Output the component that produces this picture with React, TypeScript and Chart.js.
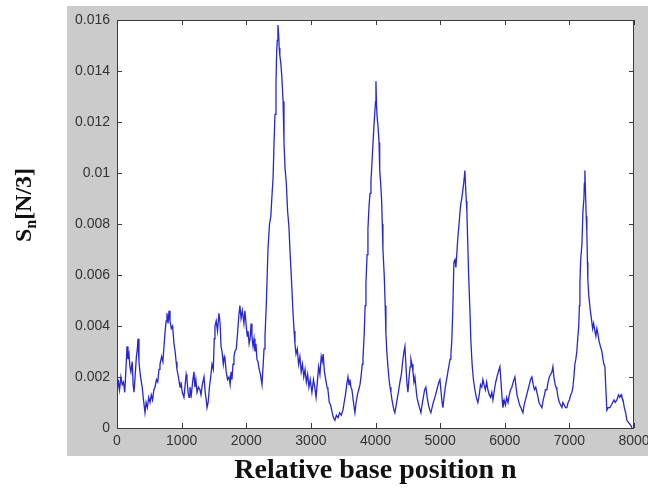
import React, { useEffect, useRef } from "react";
import { Chart, registerables } from "chart.js";
Chart.register(...registerables);

// Relative base position n
const positions: number[] = [
  0, 20, 40, 60, 80, 100, 120, 140, 155, 170, 185, 200, 215, 235, 250, 263, 280, 300, 315, 325, 340, 355, 371, 390, 410, 433, 450, 470, 490, 511, 530, 550, 570, 588, 610, 630, 650, 665, 690, 710, 727, 745, 760, 773, 790, 805, 820, 840, 860, 882, 900, 915, 928, 950, 975, 990,
  1010, 1036, 1055, 1070, 1083, 1100, 1115, 1129, 1150, 1170, 1191, 1205, 1220, 1238, 1260, 1284, 1300, 1320, 1346, 1365, 1380, 1393, 1410, 1430, 1450, 1470, 1490, 1505, 1516, 1535, 1555, 1578, 1595, 1610, 1625, 1645, 1660, 1671, 1690, 1710, 1733, 1750, 1765, 1779, 1795, 1810, 1825, 1845, 1865, 1885, 1902, 1920, 1940, 1964, 1980,
  2000, 2015, 2027, 2045, 2060, 2075, 2088, 2105, 2120, 2135, 2150, 2165, 2181, 2200, 2220, 2243, 2260, 2275, 2290, 2310, 2336, 2360, 2380, 2400, 2415, 2430, 2445, 2460, 2470, 2480, 2490, 2500, 2510, 2520, 2535, 2550, 2570, 2584, 2600, 2620, 2640, 2660, 2676, 2700, 2722, 2740, 2754, 2770, 2790, 2810, 2830, 2850, 2870, 2890, 2910, 2930, 2950, 2970, 2990,
  3016, 3040, 3060, 3080, 3100, 3120, 3140, 3160, 3175, 3190, 3210, 3230, 3250, 3264, 3285, 3305, 3330, 3350, 3372, 3395, 3420, 3445, 3470, 3496, 3515, 3535, 3555, 3574, 3590, 3605, 3620, 3635, 3650, 3665, 3682, 3700, 3720, 3740, 3760, 3780, 3795, 3806, 3825, 3840, 3852, 3870, 3883, 3900, 3915, 3930, 3945, 3960, 3975, 3990,
  4000, 4007, 4015, 4025, 4040, 4055, 4065, 4080, 4095, 4105, 4115, 4135, 4150, 4161, 4175, 4192, 4210, 4225, 4239, 4255, 4270, 4285, 4300, 4320, 4340, 4360, 4378, 4400, 4420, 4440, 4455, 4470, 4485, 4502, 4520, 4535, 4548, 4565, 4580, 4595, 4610, 4625, 4641, 4660, 4680, 4703, 4720, 4740, 4760, 4780, 4800, 4820, 4840, 4857, 4875, 4895, 4919, 4940, 4960, 4980, 4997,
  5015, 5030, 5043, 5060, 5080, 5100, 5120, 5140, 5155, 5167, 5180, 5195, 5213, 5230, 5244, 5260, 5275, 5290, 5305, 5320, 5335, 5350, 5365, 5383, 5395, 5405, 5414, 5425, 5440, 5460, 5476, 5495, 5515, 5538, 5560, 5584, 5605, 5625, 5645, 5662, 5680, 5700, 5720, 5739, 5760, 5780, 5800, 5817, 5840, 5860, 5880, 5900, 5925, 5945, 5960, 5972, 5990,
  6010, 6030, 6050, 6070, 6090, 6110, 6130, 6157, 6175, 6190, 6210, 6230, 6250, 6265, 6281, 6300, 6320, 6340, 6360, 6380, 6400, 6420, 6440, 6460, 6480, 6498, 6515, 6530, 6550, 6575, 6595, 6615, 6630, 6652, 6670, 6690, 6710, 6730, 6745, 6760, 6780, 6795, 6807, 6825, 6845, 6865, 6884, 6900, 6920, 6940, 6962, 6980,
  7000, 7020, 7039, 7055, 7070, 7085, 7100, 7115, 7132, 7145, 7155, 7163, 7175, 7194, 7210, 7225, 7232, 7240, 7250, 7260, 7270, 7280, 7286, 7300, 7320, 7340, 7360, 7375, 7395, 7410, 7425, 7441, 7460, 7480, 7503, 7520, 7535, 7550, 7565, 7580, 7600, 7627, 7650, 7670, 7690, 7710, 7735, 7760, 7780, 7800, 7812, 7830, 7850, 7870, 7890, 7920, 7950, 7970,
];

// S_n[N/3]
const values: number[] = [
  0.0012, 0.0019, 0.0015, 0.0020, 0.0017, 0.0018, 0.0014, 0.0024, 0.0032, 0.0027, 0.0029, 0.0024, 0.0022, 0.0026, 0.0017, 0.0014, 0.0020, 0.0028, 0.0031, 0.0035, 0.0026, 0.0022, 0.0019, 0.0016, 0.0011, 0.0006, 0.0010, 0.0008, 0.0012, 0.0010, 0.0013, 0.0011, 0.0015, 0.0016, 0.0019, 0.0018, 0.0023, 0.0025, 0.0028, 0.0026, 0.0032, 0.0038, 0.0042, 0.0045, 0.0041, 0.0046, 0.0042, 0.0039, 0.0040, 0.0033, 0.0030, 0.0026, 0.0023, 0.0020, 0.0016, 0.0018,
  0.0014, 0.0012, 0.0017, 0.0021, 0.0019, 0.0014, 0.0012, 0.0016, 0.0013, 0.0018, 0.0022, 0.0016, 0.0019, 0.0014, 0.0016, 0.0015, 0.0013, 0.0017, 0.0020, 0.0014, 0.0011, 0.0008, 0.0010, 0.0016, 0.0020, 0.0025, 0.0023, 0.0035, 0.0040, 0.0042, 0.0038, 0.0045, 0.0041, 0.0032, 0.0030, 0.0025, 0.0028, 0.0027, 0.0022, 0.0019, 0.0020, 0.0017, 0.0022, 0.0019, 0.0025, 0.0028, 0.0030, 0.0031, 0.0037, 0.0044, 0.0048, 0.0043, 0.0046, 0.0041, 0.0046,
  0.0040, 0.0036, 0.0038, 0.0033, 0.0035, 0.0041, 0.0036, 0.0032, 0.0035, 0.0030, 0.0033, 0.0027, 0.0026, 0.0023, 0.0021, 0.0017, 0.0024, 0.0031, 0.0036, 0.0048, 0.0070, 0.0080, 0.0083, 0.0092, 0.0098, 0.0112, 0.0123, 0.0135, 0.0147, 0.0152, 0.0158, 0.0155, 0.0149, 0.0146, 0.0143, 0.0138, 0.0128, 0.0112, 0.0102, 0.0096, 0.0085, 0.0079, 0.0070, 0.0058, 0.0046, 0.0038, 0.0033, 0.0029, 0.0031, 0.0025, 0.0028, 0.0022, 0.0025, 0.0020, 0.0023, 0.0018, 0.0021, 0.0016, 0.0019,
  0.0014, 0.0019, 0.0016, 0.0012, 0.0018, 0.0024, 0.0021, 0.0028, 0.0026, 0.0029, 0.0022, 0.0019, 0.0016, 0.0015, 0.0010, 0.0009, 0.0006, 0.0004, 0.0003, 0.0005, 0.0004, 0.0006, 0.0005, 0.0007, 0.0010, 0.0013, 0.0017, 0.0020, 0.0017, 0.0019, 0.0016, 0.0015, 0.0012, 0.0009, 0.0006, 0.0010, 0.0013, 0.0015, 0.0017, 0.0021, 0.0025, 0.0027, 0.0037, 0.0048, 0.0057, 0.0068, 0.0078, 0.0087, 0.0092, 0.0097, 0.0104, 0.0111, 0.0118, 0.0124,
  0.0128, 0.0136, 0.0127, 0.0122, 0.0118, 0.0112, 0.0101, 0.0096, 0.0089, 0.0080, 0.0070, 0.0060, 0.0048, 0.0037, 0.0030, 0.0024, 0.0019, 0.0016, 0.0014, 0.0011, 0.0009, 0.0007, 0.0006, 0.0009, 0.0012, 0.0015, 0.0018, 0.0021, 0.0026, 0.0030, 0.0032, 0.0025, 0.0018, 0.0014, 0.0020, 0.0024, 0.0027, 0.0025, 0.0022, 0.0018, 0.0020, 0.0016, 0.0012, 0.0010, 0.0008, 0.0006, 0.0009, 0.0012, 0.0015, 0.0016, 0.0012, 0.0009, 0.0007, 0.0006, 0.0008, 0.0010, 0.0012, 0.0014, 0.0016, 0.0018, 0.0019,
  0.0014, 0.0010, 0.0008, 0.0012, 0.0016, 0.0019, 0.0022, 0.0025, 0.0027, 0.0029, 0.0034, 0.0045, 0.0065, 0.0066, 0.0063, 0.0069, 0.0075, 0.0079, 0.0084, 0.0088, 0.0090, 0.0093, 0.0096, 0.0101, 0.0094, 0.0089, 0.0085, 0.0075, 0.0061, 0.0047, 0.0034, 0.0025, 0.0019, 0.0015, 0.0012, 0.0010, 0.0013, 0.0017, 0.0016, 0.0019, 0.0017, 0.0015, 0.0018, 0.0015, 0.0013, 0.0012, 0.0014, 0.0011, 0.0015, 0.0018, 0.0020, 0.0022, 0.0024, 0.0017, 0.0011, 0.0008, 0.0011,
  0.0009, 0.0012, 0.0010, 0.0013, 0.0015, 0.0016, 0.0018, 0.0020, 0.0016, 0.0013, 0.0011, 0.0009, 0.0008, 0.0007, 0.0006, 0.0009, 0.0011, 0.0013, 0.0015, 0.0017, 0.0019, 0.0020, 0.0017, 0.0015, 0.0016, 0.0014, 0.0012, 0.0010, 0.0009, 0.0008, 0.0011, 0.0013, 0.0015, 0.0015, 0.0018, 0.0020, 0.0021, 0.0022, 0.0024, 0.0020, 0.0017, 0.0016, 0.0015, 0.0012, 0.0010, 0.0009, 0.0008, 0.0010, 0.0009, 0.0008, 0.0008, 0.0010,
  0.0011, 0.0013, 0.0014, 0.0016, 0.0020, 0.0025, 0.0027, 0.0030, 0.0036, 0.0040, 0.0048, 0.0057, 0.0066, 0.0072, 0.0085, 0.0090, 0.0096, 0.0101, 0.0092, 0.0083, 0.0077, 0.0065, 0.0058, 0.0052, 0.0047, 0.0043, 0.0039, 0.0041, 0.0038, 0.0036, 0.0039, 0.0037, 0.0034, 0.0032, 0.0030, 0.0027, 0.0025, 0.0024, 0.0015, 0.0007, 0.0008, 0.0008, 0.0009, 0.0010, 0.0011, 0.0010, 0.0011, 0.0013, 0.0012, 0.0013, 0.0012, 0.0011, 0.0008, 0.0006, 0.0003, 0.0002, 0.0001, 0.0000,
];

const xTickValues: number[] = [0, 1000, 2000, 3000, 4000, 5000, 6000, 7000, 8000];
const xTickLabels: string[] = ["0", "1000", "2000", "3000", "4000", "5000", "6000", "7000", "8000"];
const yTickValues: number[] = [0, 0.002, 0.004, 0.006, 0.008, 0.01, 0.012, 0.014, 0.016];
const yTickLabels: string[] = ["0", "0.002", "0.004", "0.006", "0.008", "0.01", "0.012", "0.014", "0.016"];

const xTitle = "Relative base position n";
const yTitleMain = "S";
const yTitleSub = "n";
const yTitleRest = "[N/3]";

const framePlugin = {
  id: "framePlugin",
  beforeDraw(chart: any) {
    const { ctx, chartArea: a, width, height } = chart;
    ctx.save();
    ctx.fillStyle = "#ffffff";
    ctx.fillRect(0, 0, width, height);
    ctx.fillStyle = "#cbcbcb";
    ctx.fillRect(67, 6, width - 67, 450);
    ctx.fillStyle = "#ffffff";
    ctx.fillRect(a.left, a.top, a.right - a.left, a.bottom - a.top);
    ctx.restore();
  },
  afterDraw(chart: any) {
    const { ctx, chartArea: a, scales } = chart;
    ctx.save();
    ctx.strokeStyle = "#3a3a3a";
    ctx.lineWidth = 1;
    ctx.strokeRect(a.left + 0.5, a.top + 0.5, a.right - a.left - 1, a.bottom - a.top);
    const tl = 5;
    ctx.beginPath();
    xTickValues.forEach((v) => {
      const px = Math.round(scales.x.getPixelForValue(v)) + 0.5;
      ctx.moveTo(px, a.bottom);
      ctx.lineTo(px, a.bottom - tl);
      ctx.moveTo(px, a.top);
      ctx.lineTo(px, a.top + tl);
    });
    yTickValues.forEach((v) => {
      const py = Math.round(scales.y.getPixelForValue(v)) + 0.5;
      ctx.moveTo(a.left, py);
      ctx.lineTo(a.left + tl, py);
      ctx.moveTo(a.right, py);
      ctx.lineTo(a.right - tl, py);
    });
    ctx.stroke();

    ctx.fillStyle = "#111111";
    ctx.font = 'bold 28px "Liberation Serif", "Times New Roman", serif';
    ctx.textAlign = "center";
    ctx.textBaseline = "alphabetic";
    ctx.fillText(xTitle, (a.left + a.right) / 2, 478);

    ctx.translate(31, 205);
    ctx.rotate(-Math.PI / 2);
    ctx.textAlign = "left";
    const big = 'bold 24px "Liberation Serif", "Times New Roman", serif';
    const small = 'bold 16px "Liberation Serif", "Times New Roman", serif';
    ctx.font = big;
    const w1 = ctx.measureText(yTitleMain).width;
    const w3 = ctx.measureText(yTitleRest).width;
    ctx.font = small;
    const w2 = ctx.measureText(yTitleSub).width;
    let x0 = -(w1 + w2 + w3) / 2;
    ctx.font = big;
    ctx.fillText(yTitleMain, x0, 0);
    x0 += w1;
    ctx.font = small;
    ctx.fillText(yTitleSub, x0, 5);
    x0 += w2;
    ctx.font = big;
    ctx.fillText(yTitleRest, x0, 0);
    ctx.restore();
  },
};

export default function App() {
  const ref = useRef<HTMLCanvasElement | null>(null);
  useEffect(() => {
    document.body.style.margin = "0";
    const canvas = ref.current;
    if (!canvas) return;
    const data = positions.map((x, i) => ({ x, y: values[i] }));
    const tickFont = { family: '"Liberation Sans", Arial, sans-serif', size: 14 };
    const chart = new Chart(canvas, {
      type: "line",
      data: {
        datasets: [
          {
            data,
            borderColor: "#2626d4",
            borderWidth: 1.3,
            pointRadius: 0,
            tension: 0,
            fill: false,
          },
        ],
      },
      options: {
        animation: false,
        responsive: false,
        maintainAspectRatio: false,
        layout: { padding: { top: 20, right: 14, left: 0, bottom: 0 } },
        plugins: { legend: { display: false }, tooltip: { enabled: false } },
        scales: {
          x: {
            type: "linear",
            min: 0,
            max: 8000,
            afterBuildTicks: (s: any) => {
              s.ticks = xTickValues.map((v) => ({ value: v }));
            },
            afterFit: (s: any) => {
              s.height = 62;
              s.paddingLeft = 0;
              s.paddingRight = 0;
            },
            ticks: {
              autoSkip: false,
              maxRotation: 0,
              padding: 5,
              color: "#333333",
              font: tickFont,
              callback: (v: any) => xTickLabels[xTickValues.indexOf(Number(v))] ?? "",
            },
            grid: { display: false, drawTicks: false },
            border: { display: false },
          },
          y: {
            type: "linear",
            min: 0,
            max: 0.016,
            afterBuildTicks: (s: any) => {
              s.ticks = yTickValues.map((v) => ({ value: v }));
            },
            afterFit: (s: any) => {
              s.width = 117;
              s.paddingTop = 0;
              s.paddingBottom = 0;
            },
            ticks: {
              autoSkip: false,
              padding: 7,
              color: "#333333",
              font: tickFont,
              callback: (v: any) => {
                const i = yTickValues.findIndex((t) => Math.abs(t - Number(v)) < 1e-9);
                return i >= 0 ? yTickLabels[i] : "";
              },
            },
            grid: { display: false, drawTicks: false },
            border: { display: false },
          },
        },
      },
      plugins: [framePlugin],
    });
    return () => chart.destroy();
  }, []);
  return (
    <div style={{ width: 648, height: 490 }}>
      <canvas ref={ref} width={648} height={490} style={{ width: 648, height: 490, display: "block" }} />
    </div>
  );
}
